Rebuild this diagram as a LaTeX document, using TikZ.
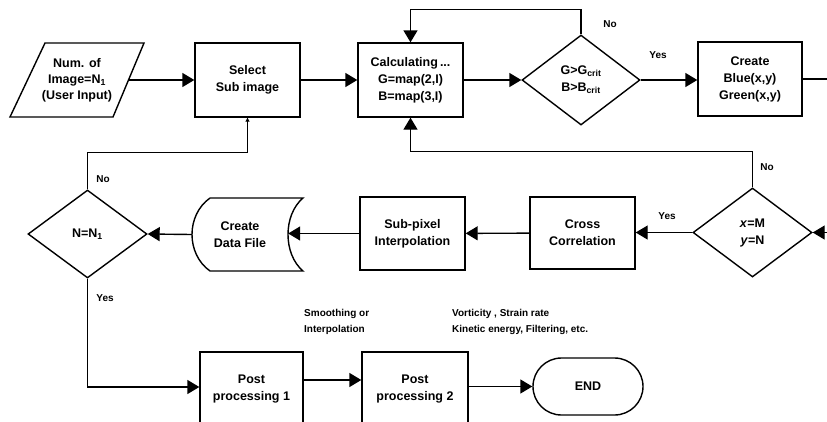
\documentclass[tikz,border=0pt]{standalone}
\usepackage{fontspec}
\setmainfont{Liberation Sans}
\usetikzlibrary{arrows.meta,shapes.geometric,shapes.misc}
\begin{document}
\begin{tikzpicture}[x=1pt,y=-1pt,
 every node/.style={font=\bfseries\fontsize{12.5}{17}\selectfont, align=center, inner sep=0pt},
 box/.style={draw, line width=1.4pt, minimum width=105, minimum height=74},
 dia/.style={draw, diamond, line width=1.4pt, minimum width=118, minimum height=90},
 lbl/.style={font=\bfseries\fontsize{10}{16.5}\selectfont, align=left},
 conn/.style={line width=1.4pt},
 arr/.style={conn, -{Triangle[length=12pt,width=14pt]}},
 sarr/.style={conn, -{Triangle[length=4pt,width=4pt]}},
]
\useasboundingbox (0,0) rectangle (827,421);
\clip (0,0) rectangle (827,421);

% top row
\draw[line width=1.4pt, line join=miter] (45,43) -- (144,43) -- (113,117) -- (10,117) -- cycle;
\node[minimum width=102, minimum height=74,
      font=\bfseries\fontsize{12.5}{16}\selectfont] (inp) at (77,80) {Num. of\\Image=N\textsubscript{1}\\(User Input)};
\node[box] (sel) at (247.5,80) {Select\\Sub image};
\node[box] (calc) at (410.5,80) {Calculating\,...\\G=map(2,I)\\B=map(3,I)};
\node[dia] (gdia) at (581,80) {G>G\textsubscript{crit}\\B>B\textsubscript{crit}};
\node[box, minimum width=104] (create) at (750,79) {Create\\Blue(x,y)\\Green(x,y)};
\coordinate (cr) at (835,79);

% middle row
\node[dia, minimum width=119, minimum height=89] (xdia) at (752.5,232.5) {\textit{x}=M\\\textit{y}=N};
\coordinate (xin) at (840,232.5);
\node[box, minimum height=72] (cross) at (582.5,233) {Cross\\Correlation};
\node[box, minimum height=73] (sub) at (412.5,233.5) {Sub-pixel\\Interpolation};
\draw[line width=1.4pt] (210,198) -- (303,198) .. controls (283,215) and (283,254) .. (303,271)
   -- (210,271) .. controls (186,254) and (186,215) .. (210,198);
\node[minimum width=96, minimum height=73] (data) at (240,234.5) {Create\\Data File};
\node[dia, minimum width=119, minimum height=88] (ndia) at (87.5,234) {N=N\textsubscript{1}};

% bottom row
\node[box, minimum width=103] (pp1) at (251.5,389) {Post\\processing 1};
\node[box, minimum width=106] (pp2) at (415,389) {Post\\processing 2};
\node[draw, line width=1.4pt, rounded rectangle, minimum width=110, minimum height=57] (endn) at (588,386.5) {END};

% connectors
\draw[arr] (inp) -- (sel);
\draw[arr] (sel) -- (calc);
\draw[arr] (calc) -- (gdia);
\draw[arr] (gdia.east) -- (gdia.east -| create.west);
\draw[conn] (create.east) -- (cr);
\draw[arr] (gdia.north) -- ++(0,-25) -| (calc.north);
\draw[arr] (xdia.north) -- ++(0,-36) -| (calc.south);
\draw[arr] (xin) -- (xdia.east);
\draw[arr] (xdia.west) -- (xdia.west -| cross.east);
\draw[arr] (cross) -- (sub);
\draw[arr] (sub.west) -- (data.east |- sub.west);
\draw[arr] (data.west) -- (ndia.east);
\draw[sarr] (ndia.north) -- ++(0,-37) -| (sel.south);
\draw[arr] (ndia.south) |- ([yshift=2pt]pp1.west);
\draw[arr] ([yshift=9pt]pp1.east) -- ([yshift=9pt]pp2.west);
\draw[arr] (endn.west -| pp2.east) -- (endn.west);

% labels
\node[lbl] (l1) at (610,24) {No};
\node[lbl] (l2) at (658,55) {Yes};
\node[lbl] (l3) at (767,167) {No};
\node[lbl] (l4) at (667,216) {Yes};
\node[lbl] (l5) at (103,179) {No};
\node[lbl] (l6) at (105,298) {Yes};
\node[lbl, anchor=north west] (l7) at (304,309) {Smoothing or\\Interpolation};
\node[lbl, anchor=north west] (l8) at (452,309) {Vorticity , Strain rate\\Kinetic energy, Filtering, etc.};
\end{tikzpicture}
\end{document}
